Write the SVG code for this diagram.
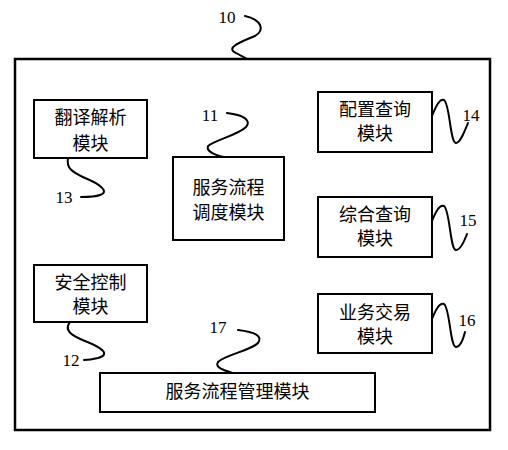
<svg xmlns="http://www.w3.org/2000/svg" width="508" height="450" viewBox="0 0 508 450">
<style>
.box{fill:#fff;stroke:#000;stroke-width:2}
.frame{fill:none;stroke:#000;stroke-width:2.5}
.t{font-family:"Noto Sans CJK SC","Noto Sans",sans-serif;font-size:18px;fill:#000;text-anchor:middle}
.n{font-family:"Liberation Serif",serif;font-size:17px;fill:#000;text-anchor:middle}
.sq{fill:none;stroke:#000;stroke-width:2;stroke-linecap:round}
</style>
<rect width="508" height="450" fill="#fff"/>
<g id="system10">
<rect class="frame" x="15" y="59" width="475" height="371"/>
<text class="n" x="227" y="23">10</text>
</g>
<g id="connectors">
<path class="sq" d="M245,16 C262,20 265,30 255,36 C240,42 225,48 236,53 C241,56 244,57 247,59"/>
<path class="sq" d="M227,113 C243,115 252,120 246,127 C238,135 215,140 208,146 C206,151 214,155 224,157"/>
<path class="sq" d="M68,158 C66,168 72,172 85,178 C100,184 110,192 100,195 C95,197 88,197 81,197"/>
<path class="sq" d="M70,322 C64,330 70,335 85,341 C100,347 112,354 98,358 C94,359 88,360 84,360"/>
<path class="sq" d="M238,330 C255,332 263,336 258,343 C252,350 225,355 218,362 C214,368 226,371 233,373"/>
<path class="sq" d="M432,116 C436,106 440,98 444,100 C450,104 450,143 456,143 C460,143 464,133 468,123"/>
<path class="sq" d="M432,221 C436,211 440,204 444,206 C450,210 450,250 456,250 C460,250 464,242 467,234"/>
<path class="sq" d="M432,319 C436,309 440,302 444,304 C450,308 450,347 456,347 C460,347 463,340 465,332"/>
</g>
<g id="node11">
<rect class="box" x="173" y="157" width="111" height="83"/>
<text class="t" x="228.5" y="194">服务流程</text>
<text class="t" x="228.5" y="219">调度模块</text>
<text class="n" x="210" y="121">11</text>
</g>
<g id="node12">
<rect class="box" x="34" y="265" width="113" height="57"/>
<text class="t" x="90.5" y="289">安全控制</text>
<text class="t" x="90.5" y="313">模块</text>
<text class="n" x="71" y="366">12</text>
</g>
<g id="node13">
<rect class="box" x="34" y="100" width="113" height="58"/>
<text class="t" x="90.5" y="124">翻译解析</text>
<text class="t" x="90.5" y="150">模块</text>
<text class="n" x="64" y="203">13</text>
</g>
<g id="node14">
<rect class="box" x="318" y="92" width="114" height="60"/>
<text class="t" x="375" y="116">配置查询</text>
<text class="t" x="375" y="140">模块</text>
<text class="n" x="471" y="121">14</text>
</g>
<g id="node15">
<rect class="box" x="318" y="197" width="114" height="60"/>
<text class="t" x="375" y="221">综合查询</text>
<text class="t" x="375" y="245">模块</text>
<text class="n" x="468" y="226">15</text>
</g>
<g id="node16">
<rect class="box" x="318" y="294" width="114" height="59"/>
<text class="t" x="375" y="319">业务交易</text>
<text class="t" x="375" y="343">模块</text>
<text class="n" x="467" y="326">16</text>
</g>
<g id="node17">
<rect class="box" x="100" y="373" width="275" height="39"/>
<text class="t" x="237.5" y="398">服务流程管理模块</text>
<text class="n" x="218" y="333">17</text>
</g>
</svg>
